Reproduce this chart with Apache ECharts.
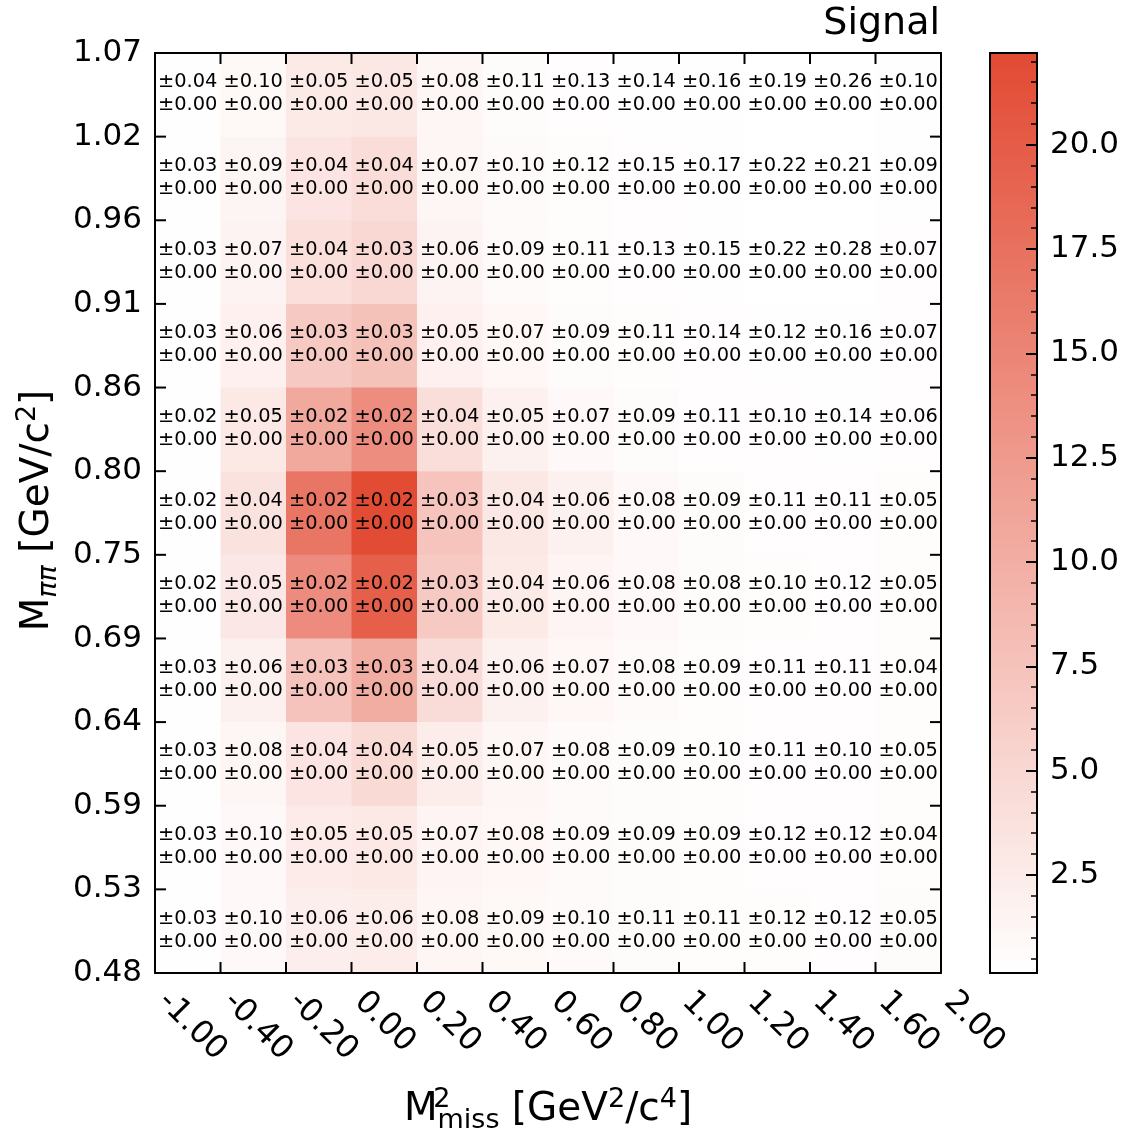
<!DOCTYPE html>
<html><head><meta charset="utf-8">
<script src="https://cdn.jsdelivr.net/npm/echarts@6/dist/echarts.min.js"></script>
<style>html,body{margin:0;padding:0;background:#fff}#c{width:1133px;height:1137px}</style>
</head><body><div id="c"></div>
<script>
// Bin edges (tick labels)
const xEdges = ['-1.00','-0.40','-0.20','0.00','0.20','0.40','0.60','0.80','1.00','1.20','1.40','1.60','2.00'];
const yEdges = ['0.48','0.53','0.59','0.64','0.69','0.75','0.80','0.86','0.91','0.96','1.02','1.07'];
// Signal yields, rows from top (1.02-1.07) to bottom (0.48-0.53), columns left to right
const signalRows = [
  [0.25, 1.0, 2.7, 3.0, 1.2, 0.6, 0.4, 0.3, 0.25, 0.2, 0.15, 0.25],
  [0.25, 1.4, 3.4, 4.3, 1.3, 0.7, 0.45, 0.35, 0.3, 0.2, 0.2, 0.3],
  [0.25, 1.6, 4.0, 4.9, 1.6, 0.8, 0.5, 0.4, 0.3, 0.2, 0.15, 0.35],
  [0.3, 2.0, 6.7, 7.6, 2.0, 1.1, 0.6, 0.45, 0.35, 0.3, 0.25, 0.35],
  [0.3, 2.8, 10.7, 14.0, 4.2, 1.8, 0.9, 0.6, 0.4, 0.4, 0.3, 0.4],
  [0.3, 3.6, 16.8, 22.1, 7.3, 3.1, 1.8, 0.9, 0.55, 0.4, 0.35, 0.5],
  [0.3, 2.9, 14.1, 19.7, 6.7, 2.7, 1.5, 0.9, 0.6, 0.45, 0.35, 0.5],
  [0.3, 1.9, 7.4, 10.1, 4.4, 1.9, 1.1, 0.7, 0.5, 0.4, 0.35, 0.5],
  [0.25, 1.2, 3.4, 4.7, 2.4, 1.2, 0.8, 0.6, 0.5, 0.4, 0.4, 0.5],
  [0.25, 0.9, 2.6, 2.8, 1.5, 1.1, 0.7, 0.6, 0.5, 0.4, 0.35, 0.5],
  [0.25, 0.9, 2.2, 2.3, 1.3, 1.0, 0.7, 0.6, 0.5, 0.45, 0.4, 0.55]
];
// Statistical uncertainties (first text line), same layout
const statErrRows = [
  ['0.04','0.10','0.05','0.05','0.08','0.11','0.13','0.14','0.16','0.19','0.26','0.10'],
  ['0.03','0.09','0.04','0.04','0.07','0.10','0.12','0.15','0.17','0.22','0.21','0.09'],
  ['0.03','0.07','0.04','0.03','0.06','0.09','0.11','0.13','0.15','0.22','0.28','0.07'],
  ['0.03','0.06','0.03','0.03','0.05','0.07','0.09','0.11','0.14','0.12','0.16','0.07'],
  ['0.02','0.05','0.02','0.02','0.04','0.05','0.07','0.09','0.11','0.10','0.14','0.06'],
  ['0.02','0.04','0.02','0.02','0.03','0.04','0.06','0.08','0.09','0.11','0.11','0.05'],
  ['0.02','0.05','0.02','0.02','0.03','0.04','0.06','0.08','0.08','0.10','0.12','0.05'],
  ['0.03','0.06','0.03','0.03','0.04','0.06','0.07','0.08','0.09','0.11','0.11','0.04'],
  ['0.03','0.08','0.04','0.04','0.05','0.07','0.08','0.09','0.10','0.11','0.10','0.05'],
  ['0.03','0.10','0.05','0.05','0.07','0.08','0.09','0.09','0.09','0.12','0.12','0.04'],
  ['0.03','0.10','0.06','0.06','0.08','0.09','0.10','0.11','0.11','0.12','0.12','0.05']
];
// Systematic uncertainties (second text line)
const sysErrRows = signalRows.map(r => r.map(() => '0.00'));
// Colour scale
const cMin = 0.15, cMax = 22.2;
const cbMajor = [2.5, 5.0, 7.5, 10.0, 12.5, 15.0, 17.5, 20.0];
const cbMinor = [];
for (let k = 1; k <= 44; k++) { const v = k * 0.5; if (k % 5 !== 0) cbMinor.push(v); }

const nX = xEdges.length - 1, nY = yEdges.length - 1;
const xTickPos = xEdges.map((_, i) => i);
const yTickPos = yEdges.map((_, i) => i);
const cells = [];
signalRows.forEach((row, r) => {
  const j = nY - 1 - r;
  row.forEach((v, i) => cells.push([i, j, v, statErrRows[r][i], sysErrRows[r][i]]));
});

const FONT = '"DejaVu Sans", sans-serif';
const TICK_LEN = 11;
const chart = echarts.init(document.getElementById('c'), null, {renderer: 'canvas'});
const axLine = {show: true, onZero: false, lineStyle: {color: '#000', width: 2}};
const tickIn = (len, w, vals) => ({show: true, inside: true, length: len, customValues: vals, lineStyle: {color: '#000', width: w}});
const cbGrid = {left: 990, top: 53, width: 47, height: 920, outerBoundsMode: 'none', containLabel: false};
const tickStyle = {stroke: '#000', lineWidth: 2};
chart.setOption({
  animation: false,
  backgroundColor: '#fff',
  title: {text: 'Signal', right: 188, top: 0, textStyle: {fontFamily: FONT, fontSize: 38, fontWeight: 'normal', color: '#000'}},
  grid: [
    {left: 155, top: 53, width: 786, height: 920, outerBoundsMode: 'none', containLabel: false},
    cbGrid,
    Object.assign({}, cbGrid)
  ],
  visualMap: {type: 'continuous', show: false, min: cMin, max: cMax, dimension: 2, seriesIndex: 0,
    inRange: {color: ['#ffffff', '#E24A33']}},
  xAxis: [
    {type: 'value', gridIndex: 0, min: 0, max: nX, interval: 1, position: 'bottom', zlevel: 1, z: 10,
     axisLine: axLine, splitLine: {show: false}, axisTick: {show: false},
     axisLabel: {show: true, rotate: -45, margin: 16, padding: [0, 0, 0, 11], fontFamily: FONT, fontSize: 32, color: '#000',
       customValues: xTickPos, formatter: v => xEdges[Math.round(v)]},
     name: '{m|M}{sp0| 2}{sb|miss}{m| [GeV}{sp|2}{m|/c}{sp|4}{m|]}', nameLocation: 'middle', nameGap: 113,
     nameTextStyle: {fontFamily: FONT, color: '#000', rich: {
       m: {fontFamily: FONT, fontSize: 39, lineHeight: 48, color: '#000'},
       sp0: {fontFamily: FONT, fontSize: 27, lineHeight: 20, verticalAlign: 'top', width: 0, color: '#000'},
       sp: {fontFamily: FONT, fontSize: 27, lineHeight: 20, verticalAlign: 'top', color: '#000'},
       sb: {fontFamily: FONT, fontSize: 27, lineHeight: 20, verticalAlign: 'bottom', color: '#000'}
     }}},
    {type: 'value', gridIndex: 0, min: 0, max: nX, interval: 1, position: 'top', zlevel: 1, z: 10,
     axisLine: axLine, splitLine: {show: false}, axisLabel: {show: false}, axisTick: {show: false}},
    {type: 'value', gridIndex: 1, min: 0, max: 1, show: false},
    {type: 'value', gridIndex: 2, min: 0, max: 1, show: false}
  ],
  yAxis: [
    {type: 'value', gridIndex: 0, min: 0, max: nY, interval: 1, position: 'left', zlevel: 1, z: 10,
     axisLine: axLine, splitLine: {show: false}, axisTick: {show: false},
     axisLabel: {show: true, margin: 13, fontFamily: FONT, fontSize: 31, color: '#000',
       customValues: yTickPos, formatter: v => yEdges[Math.round(v)]},
     name: '{m|M}{sb|ππ}{m| [GeV/c}{sp|2}{m|]}', nameLocation: 'middle', nameGap: 93, nameRotate: 90,
     nameTextStyle: {fontFamily: FONT, color: '#000', padding: [0, 0, 0, 5], rich: {
       m: {fontFamily: FONT, fontSize: 39, lineHeight: 48, color: '#000'},
       sp: {fontFamily: FONT, fontSize: 27, lineHeight: 20, verticalAlign: 'top', color: '#000'},
       sb: {fontFamily: FONT, fontSize: 27, fontStyle: 'italic', lineHeight: 20, verticalAlign: 'bottom', color: '#000'}
     }}},
    {type: 'value', gridIndex: 0, min: 0, max: nY, interval: 1, position: 'right', zlevel: 1, z: 10,
     axisLine: axLine, splitLine: {show: false}, axisLabel: {show: false}, axisTick: {show: false}},
    {type: 'value', gridIndex: 1, min: cMin, max: cMax, position: 'right', zlevel: 1, z: 10,
     axisLine: {show: false, onZero: false}, splitLine: {show: false},
     axisTick: tickIn(11, 2, cbMajor),
     axisLabel: {show: true, margin: 13, customValues: cbMajor, fontFamily: FONT, fontSize: 31, color: '#000',
       formatter: v => Number(v).toFixed(1)}},
    {type: 'value', gridIndex: 2, min: cMin, max: cMax, position: 'right', zlevel: 1, z: 10,
     axisLine: {show: false, onZero: false}, splitLine: {show: false}, axisLabel: {show: false},
     axisTick: tickIn(6, 1.5, cbMinor)}
  ],
  series: [
    {type: 'custom', xAxisIndex: 0, yAxisIndex: 0, z: 1, data: cells,
     encode: {x: 0, y: 1},
     renderItem: function (params, api) {
       const d = cells[params.dataIndex];
       const i = api.value(0), j = api.value(1);
       const p0 = api.coord([i, j]), p1 = api.coord([i + 1, j + 1]);
       const cx = (p0[0] + p1[0]) / 2, cy = (p0[1] + p1[1]) / 2;
       return {type: 'group', children: [
         {type: 'rect', shape: {x: p0[0], y: p1[1], width: p1[0] - p0[0] + 0.5, height: p0[1] - p1[1] + 0.5},
          style: {fill: api.visual('color')}},
         {type: 'text', z2: 5, style: {text: '±' + d[3] + '\n±' + d[4], x: cx, y: cy - 1,
          align: 'center', verticalAlign: 'middle', fontFamily: FONT, fontSize: 19.4, lineHeight: 23, fill: '#000'}}
       ]};
     }},
    {type: 'custom', xAxisIndex: 2, yAxisIndex: 2, z: 1, data: [[0, cMin, cMax]],
     renderItem: function (params, api) {
       const p0 = api.coord([0, api.value(1)]), p1 = api.coord([1, api.value(2)]);
       return {type: 'rect', shape: {x: p0[0], y: p1[1], width: p1[0] - p0[0], height: p0[1] - p1[1]},
         style: {fill: new echarts.graphic.LinearGradient(0, 1, 0, 0, [{offset: 0, color: '#ffffff'}, {offset: 1, color: '#E24A33'}]),
           stroke: '#000', lineWidth: 2}};
     }},
    // inward ticks on the bottom and top edges of the main frame
    {type: 'custom', xAxisIndex: 0, yAxisIndex: 0, z: 20, zlevel: 1, clip: false, silent: true,
     data: xTickPos.map(v => [v, 0]), encode: {x: 0, y: 1},
     renderItem: function (params, api) {
       const b = api.coord([api.value(0), 0]), t = api.coord([api.value(0), nY]);
       return {type: 'group', children: [
         {type: 'line', shape: {x1: b[0], y1: b[1], x2: b[0], y2: b[1] - TICK_LEN}, style: tickStyle},
         {type: 'line', shape: {x1: t[0], y1: t[1], x2: t[0], y2: t[1] + TICK_LEN}, style: tickStyle}
       ]};
     }},
    // inward ticks on the left and right edges of the main frame
    {type: 'custom', xAxisIndex: 0, yAxisIndex: 0, z: 20, zlevel: 1, clip: false, silent: true,
     data: yTickPos.map(v => [0, v]), encode: {x: 0, y: 1},
     renderItem: function (params, api) {
       const l = api.coord([0, api.value(1)]), r = api.coord([nX, api.value(1)]);
       return {type: 'group', children: [
         {type: 'line', shape: {x1: l[0], y1: l[1], x2: l[0] + TICK_LEN, y2: l[1]}, style: tickStyle},
         {type: 'line', shape: {x1: r[0], y1: r[1], x2: r[0] - TICK_LEN, y2: r[1]}, style: tickStyle}
       ]};
     }}
  ]
});
</script></body></html>
